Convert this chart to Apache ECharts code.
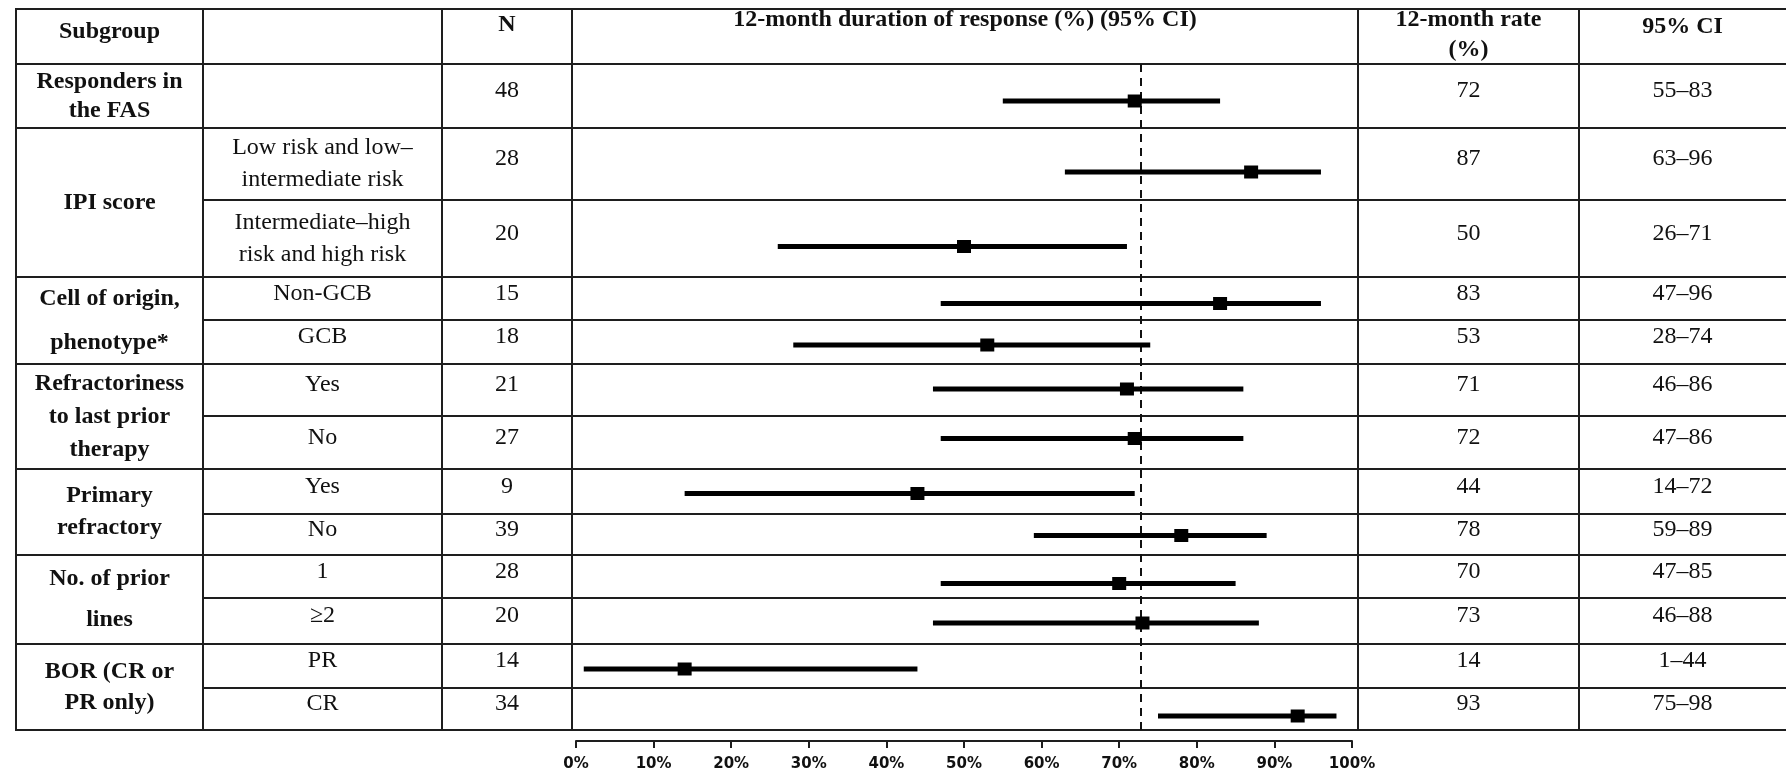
<!DOCTYPE html>
<html>
<head>
<meta charset="utf-8">
<title>12-month duration of response by subgroup</title>
<script src="https://cdn.jsdelivr.net/npm/echarts@6/dist/echarts.min.js"></script>
<style>
  html, body { margin: 0; padding: 0; background: #ffffff; }
  #chart { width: 1786px; height: 773px; }
</style>
</head>
<body>
<div id="chart"></div>
<script>
// ---- data ----
const groupLabels = [
  'Responders in\nthe FAS',
  'IPI score',
  'Cell of origin,\nphenotype*',
  'Refractoriness\nto last prior\ntherapy',
  'Primary\nrefractory',
  'No. of prior\nlines',
  'BOR (CR or\nPR only)'
];
const groupRowCounts = [1, 2, 2, 2, 2, 2, 2];
const subgroupLabels = [
  '',
  'Low risk and low\u2013\nintermediate risk',
  'Intermediate\u2013high\nrisk and high risk',
  'Non-GCB', 'GCB',
  'Yes', 'No',
  'Yes', 'No',
  '1', '\u22652',
  'PR', 'CR'
];
const nCounts = [48, 28, 20, 15, 18, 21, 27, 9, 39, 28, 20, 14, 34];
const rate12 = [72, 87, 50, 83, 53, 71, 72, 44, 78, 70, 73, 14, 93];
const ciLower = [55, 63, 26, 47, 28, 46, 47, 14, 59, 47, 46, 1, 75];
const ciUpper = [83, 96, 71, 96, 74, 86, 86, 72, 89, 85, 88, 44, 98];
const referenceRate = 72.8;
const headerLabels = ['Subgroup', '', 'N', '12-month duration of response (%) (95% CI)', '12-month rate\n(%)', '95% CI'];

// ---- table layout (pixels) ----
const colEdges = [16, 203, 442, 572, 1358, 1579, 1786];
const tableTop = 9;
const rowEdges = [64, 128, 200, 277, 320, 364, 416, 469, 514, 555, 598, 644, 688, 730];
const groupLineHeights = [29, 30, 44, 33, 32, 41, 31];
const headerTextY = [32, 36, 25, 20, 35, 27];
const textLift = 5;       // single-line cell text sits a little above the row middle
// vertical placement of each estimate row relative to its row middle
const markerDrops = [5, 8, 8, 5, 3, -1, -4, 2, 1, 7, 2, 3, 7];
const lineColor = '#1e1e1e';
const serif = '"Liberation Serif", "DejaVu Serif", serif';

const tableBottom = rowEdges[rowEdges.length - 1];
const rowMid = i => (rowEdges[i] + rowEdges[i + 1]) / 2;
const colMid = c => (colEdges[c] + colEdges[c + 1]) / 2;

// which rows start a new group
const groupStartRows = [];
{
  let r = 0;
  groupRowCounts.forEach(n => { groupStartRows.push(r); r += n; });
}

const graphics = [];

function hLine(x1, x2, y) {
  graphics.push({ type: 'line', silent: true, z: 5,
    shape: { x1: x1, y1: y, x2: x2, y2: y },
    style: { stroke: lineColor, lineWidth: 2 } });
}
function vLine(x, y1, y2) {
  graphics.push({ type: 'line', silent: true, z: 5,
    shape: { x1: x, y1: y1, x2: x, y2: y2 },
    style: { stroke: lineColor, lineWidth: 2 } });
}
function cellText(text, x, y, bold, lineHeight) {
  graphics.push({ type: 'text', silent: true, z: 6,
    style: {
      text: text, x: x, y: y,
      fill: '#111',
      fontFamily: serif, fontSize: 24, fontWeight: bold ? 'bold' : 'normal',
      lineHeight: lineHeight || 30,
      align: 'center', verticalAlign: 'middle',
      textAlign: 'center', textVerticalAlign: 'middle'
    } });
}

// outer and header rules
hLine(colEdges[0], colEdges[6], tableTop);
hLine(colEdges[0], colEdges[6], rowEdges[0]);
hLine(colEdges[0], colEdges[6], tableBottom);
// row rules: group boundaries span the whole table, inner rows start at the subgroup column
for (let i = 1; i < rowEdges.length - 1; i++) {
  const startsGroup = groupStartRows.indexOf(i) >= 0;
  hLine(startsGroup ? colEdges[0] : colEdges[1], colEdges[6], rowEdges[i]);
}
// column rules
for (let c = 0; c < 6; c++) vLine(colEdges[c], tableTop - 1, tableBottom + 1);

// header texts
headerLabels.forEach((h, c) => {
  if (h) cellText(h, colMid(c), headerTextY[c], true, 30);
});

// group labels, centred over their merged cells
groupLabels.forEach((g, k) => {
  const r0 = groupStartRows[k];
  const r1 = r0 + groupRowCounts[k];
  const y = (rowEdges[r0] + rowEdges[r1]) / 2;
  cellText(g, colMid(0), y, true, groupLineHeights[k]);
});

// per-row texts
subgroupLabels.forEach((s, i) => {
  const yMid = rowMid(i);
  if (s) {
    const multi = s.indexOf('\n') >= 0;
    cellText(s, colMid(1), multi ? yMid : yMid - textLift, false, 32);
  }
  cellText(String(nCounts[i]), colMid(2), yMid - textLift, false);
  cellText(String(rate12[i]), colMid(4), yMid - textLift, false);
  cellText(ciLower[i] + '\u2013' + ciUpper[i], colMid(5), yMid - textLift, false);
});

// forest rows: [vertical position, lower CI, upper CI, estimate]
const forestData = rate12.map((v, i) => [rowMid(i) + markerDrops[i], ciLower[i], ciUpper[i], v]);

const chart = echarts.init(document.getElementById('chart'), null, { renderer: 'canvas' });

chart.setOption({
  backgroundColor: '#ffffff',
  animation: false,
  grid: {
    left: 576,
    width: 776,
    top: rowEdges[0],
    height: tableBottom - rowEdges[0],
    containLabel: false
  },
  xAxis: {
    type: 'value',
    min: 0, max: 100, interval: 10,
    offset: 11,
    axisLine: { show: true, onZero: false, lineStyle: { color: lineColor, width: 2 } },
    axisTick: { show: true, inside: false, length: 7, lineStyle: { color: lineColor, width: 2 } },
    splitLine: { show: false },
    axisLabel: {
      formatter: '{value}%',
      color: '#111',
      fontFamily: '"DejaVu Sans", Verdana, sans-serif',
      fontWeight: 'bold',
      fontSize: 15,
      margin: 16
    }
  },
  yAxis: {
    type: 'value',
    min: rowEdges[0], max: tableBottom,
    inverse: true,
    show: false
  },
  graphic: graphics,
  series: [
    {
      type: 'custom',
      name: '12-month duration of response',
      encode: { x: [1, 2, 3], y: 0 },
      data: forestData,
      z: 10,
      renderItem: function (params, api) {
        const y = api.value(0);
        const lo = api.coord([api.value(1), y]);
        const hi = api.coord([api.value(2), y]);
        const pt = api.coord([api.value(3), y]);
        return {
          type: 'group',
          children: [
            { type: 'line', shape: { x1: lo[0], y1: lo[1], x2: hi[0], y2: hi[1] },
              style: { stroke: '#000', lineWidth: 5 } },
            { type: 'rect', shape: { x: pt[0] - 7, y: pt[1] - 6.5, width: 14, height: 13 },
              style: { fill: '#000' } }
          ]
        };
      }
    },
    {
      type: 'line',
      name: 'reference',
      data: [],
      silent: true,
      markLine: {
        silent: true,
        symbol: 'none',
        label: { show: false },
        lineStyle: { color: '#111', width: 2, type: [8, 6] },
        data: [{ xAxis: referenceRate }]
      }
    }
  ]
});
</script>
</body>
</html>
